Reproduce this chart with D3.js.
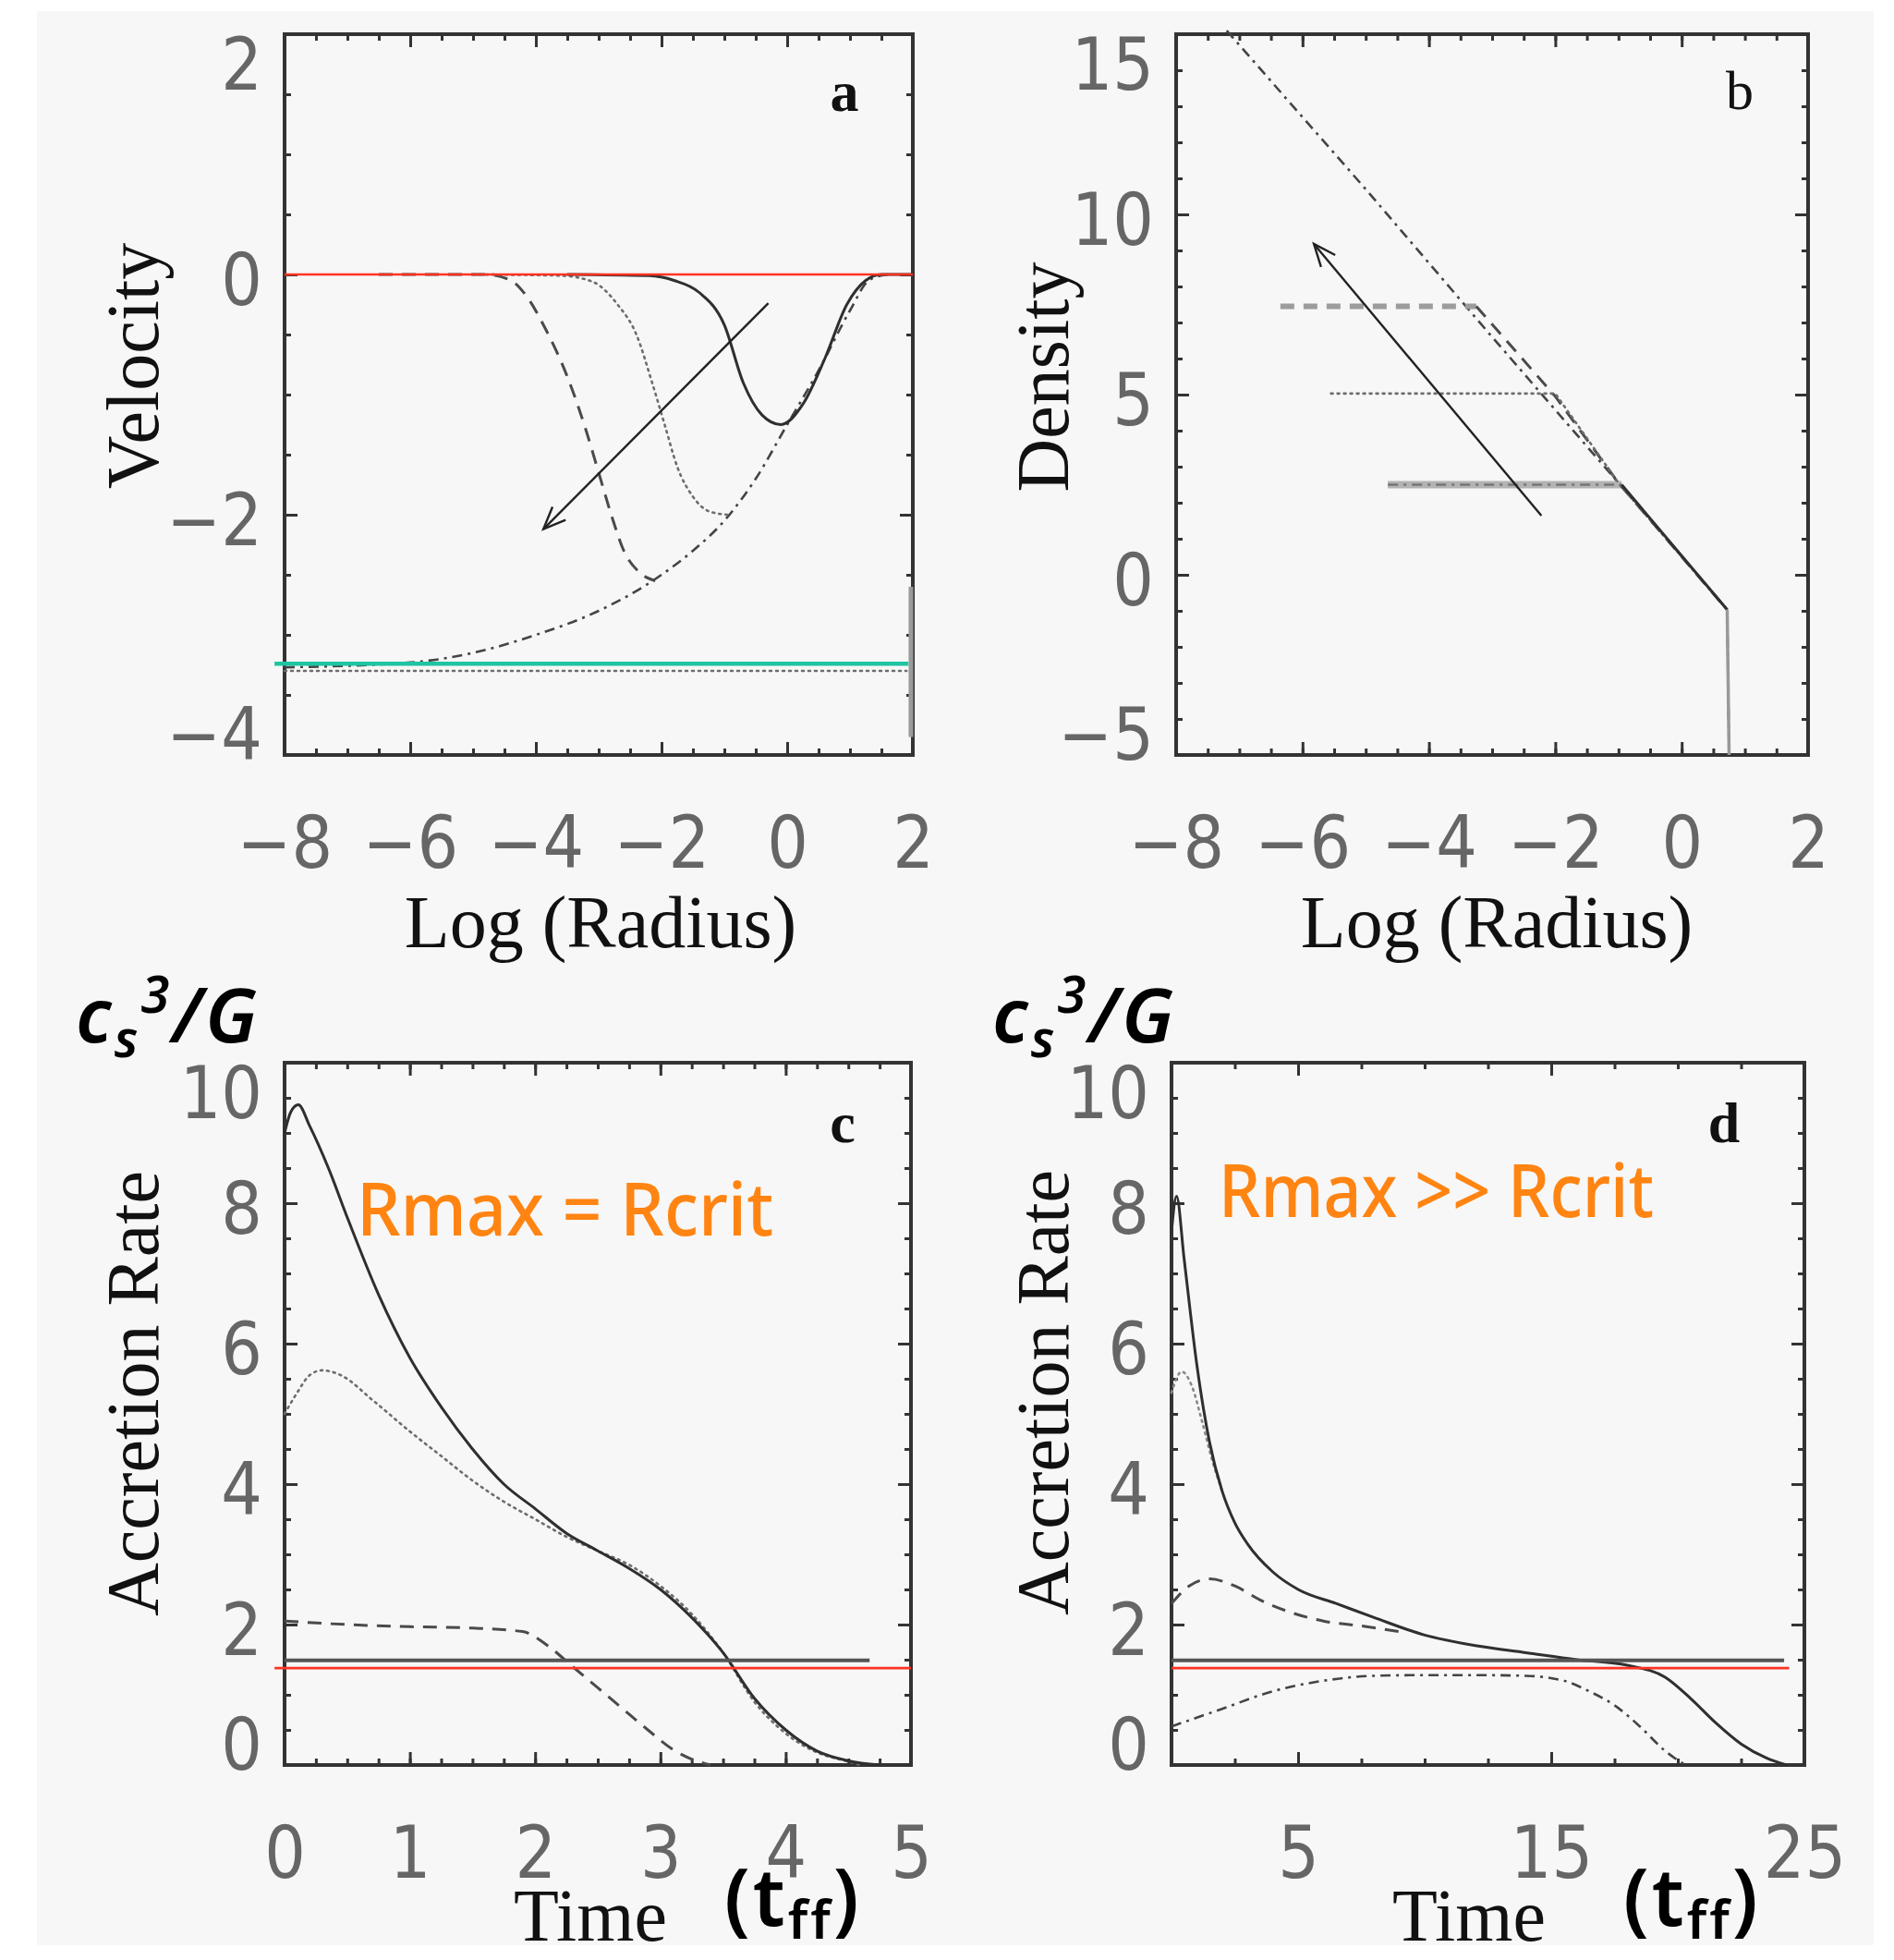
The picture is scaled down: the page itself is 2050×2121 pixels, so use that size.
<!DOCTYPE html>
<html>
<head>
<meta charset="utf-8">
<script src="https://cdn.jsdelivr.net/npm/d3@7"></script>
<style>
  html, body { margin: 0; padding: 0; background: #fff; }
  svg { display: block; }
</style>
</head>
<body>
<svg id="chart" width="2050" height="2121"></svg>
<script>
// ---- values ----
var radiusTicks = [-8, -6, -4, -2, 0, 2];
var velocityTicks = [-4, -2, 0, 2];
var densityTicks = [-5, 0, 5, 10, 15];
var timeTicksC = [0, 1, 2, 3, 4, 5];
var timeTicksD = [5, 15, 25];
var rateTicks = [0, 2, 4, 6, 8, 10];

// panel a : velocity vs log radius
var velSolid = [[-3.5, 0], [-2.2, -0.01], [-1.8, -0.05], [-1.4, -0.15], [-1.0, -0.42], [-0.7, -0.9], [-0.4, -1.17],
  [-0.1, -1.25], [0.25, -1.08], [0.6, -0.7], [0.95, -0.25], [1.25, -0.05], [1.5, 0], [2, 0]];
var velDotted = [[-5.0, 0], [-3.6, -0.01], [-3.1, -0.06], [-2.7, -0.25], [-2.4, -0.5], [-2.15, -0.9], [-1.95, -1.25],
  [-1.75, -1.6], [-1.5, -1.85], [-1.25, -1.97], [-0.95, -2.0]];
var velDashed = [[-6.5, 0], [-4.8, 0], [-4.4, -0.05], [-4.15, -0.18], [-3.85, -0.45], [-3.5, -0.85], [-3.2, -1.3],
  [-3.0, -1.65], [-2.8, -2.0], [-2.6, -2.3], [-2.35, -2.48], [-2.1, -2.55]];
var velDashDot = [[-8, -3.27], [-6, -3.23], [-5, -3.15], [-4, -3.0], [-3, -2.8], [-2, -2.5], [-1.5, -2.3], [-1, -2.05],
  [-0.5, -1.7], [0, -1.25], [0.5, -0.8], [1, -0.3], [1.3, -0.05], [1.6, 0]];
var velFloor = [[-8, -3.3], [1.9, -3.3]];
var velWall = [[1.97, -2.6], [1.97, -3.85]];
var velZero = [[-8, 0], [2, 0]];
var velInfall = [[-8.16, -3.24], [1.93, -3.24]];
var velArrow = [[-0.3, -0.24], [-3.88, -2.12]];

// panel b : density vs log radius
var denDashDot = [[-7.2, 15.1], [-5, 10.7], [-3, 6.6], [-1, 2.55], [0.72, -0.97], [0.75, -5]];
var denDashed = [[-6.35, 7.45], [-3.25, 7.45], [-2, 4.95], [-1, 2.55], [0.72, -0.97]];
var denDotted = [[-5.55, 5.03], [-2.0, 5.03], [-1, 2.55], [0.72, -0.97]];
var denSolid = [[-4.65, 2.5], [-0.95, 2.5], [0.72, -0.97]];
var denWall = [[0.72, -0.97], [0.75, -5]];
var denArrow = [[-2.22, 1.64], [-5.82, 9.18]];

// panel c : accretion rate vs time, Rmax = Rcrit
var accSolidC = [[0, 9.0], [0.05, 9.3], [0.11, 9.4], [0.2, 9.1], [0.35, 8.5], [0.5, 7.8], [0.75, 6.7], [1.0, 5.8],
  [1.25, 5.1], [1.5, 4.5], [1.75, 4.0], [2.0, 3.65], [2.25, 3.3], [2.5, 3.05], [2.75, 2.8], [3.0, 2.5], [3.25, 2.1],
  [3.5, 1.6], [3.75, 0.95], [4.0, 0.5], [4.25, 0.2], [4.5, 0.06], [4.75, 0.0]];
var accDottedC = [[0, 5.0], [0.1, 5.3], [0.2, 5.55], [0.3, 5.62], [0.45, 5.55], [0.7, 5.2], [1.0, 4.75], [1.25, 4.4],
  [1.5, 4.05], [1.75, 3.75], [2.0, 3.5], [2.25, 3.25], [2.5, 3.05], [2.75, 2.85], [3.0, 2.55], [3.25, 2.15],
  [3.5, 1.6], [3.75, 0.9], [4.0, 0.45], [4.25, 0.18], [4.5, 0.05], [4.6, 0.0]];
var accDashedC = [[0, 2.05], [0.5, 2.0], [1.0, 1.97], [1.5, 1.95], [1.9, 1.9], [2.1, 1.7], [2.3, 1.4], [2.5, 1.1],
  [2.7, 0.8], [2.9, 0.5], [3.1, 0.22], [3.3, 0.05], [3.4, 0.0]];
var accLevelC = [[0, 1.49], [4.67, 1.49]];
var accRefC = [[-0.08, 1.38], [5, 1.38]];

// panel d : accretion rate vs time, Rmax >> Rcrit
var accSolidD = [[0, 7.6], [0.2, 8.1], [0.5, 7.2], [1.0, 5.7], [1.5, 4.6], [2.0, 3.9], [2.5, 3.45], [3.0, 3.15],
  [4.0, 2.75], [5.0, 2.5], [6.5, 2.3], [8, 2.1], [10, 1.85], [12, 1.7], [14, 1.6], [16, 1.5], [18, 1.42],
  [19.5, 1.25], [20.5, 0.95], [21.5, 0.6], [22.5, 0.3], [23.5, 0.1], [24.3, 0.0]];
var accDottedD = [[0, 5.3], [0.4, 5.6], [0.8, 5.4], [1.2, 4.9], [1.6, 4.35], [2.0, 3.9]];
var accDashedD = [[0, 2.3], [0.7, 2.55], [1.5, 2.65], [2.5, 2.55], [3.5, 2.35], [4.5, 2.2], [6, 2.05], [7.5, 1.98],
  [9, 1.9]];
var accDashDotD = [[0, 0.55], [2, 0.8], [4, 1.05], [6, 1.2], [8, 1.27], [10, 1.28], [12, 1.28], [14, 1.27],
  [15.5, 1.2], [16.5, 1.05], [17.5, 0.85], [18.5, 0.55], [19.5, 0.2], [20.3, 0.0]];
var accLevelD = [[0, 1.49], [24.2, 1.49]];
var accRefD = [[0, 1.38], [24.4, 1.38]];

// ---- drawing ----
var svg = d3.select('#chart');
var tickFont = "'Liberation Sans Narrow', 'DejaVu Sans Condensed', 'Liberation Sans', sans-serif";
var serif = "'Liberation Serif', 'DejaVu Serif', serif";
var hand = "'Noto Sans', 'Open Sans', sans-serif";
var intFormat = d3.format('d');

svg.append('rect').attr('x', 40).attr('y', 12).attr('width', 1988).attr('height', 2093).attr('fill', '#f7f7f7');

var defs = svg.append('defs');
defs.append('marker')
    .attr('id', 'vhead')
    .attr('viewBox', '-26 -12 30 24')
    .attr('markerWidth', 30).attr('markerHeight', 24)
    .attr('markerUnits', 'userSpaceOnUse')
    .attr('orient', 'auto')
    .append('path')
    .attr('d', 'M-24,-10 L0,0 L-24,10')
    .attr('fill', 'none').attr('stroke', '#222').attr('stroke-width', 2.4);

var styles = {
    solid: {stroke: '#2f2f2f', width: 3, dash: null},
    dotted: {stroke: '#6d6d6d', width: 2.6, dash: '2,5'},
    dashed: {stroke: '#4a4a4a', width: 3, dash: '15,10'},
    dashdot: {stroke: '#444', width: 2.6, dash: '11,6,3,6'}
};

function ticksEvery(domain, step) {
    return d3.range(Math.ceil(domain[0] / step) * step, domain[1] + step / 2, step);
}

function makePanel(o) {
    var x = d3.scaleLinear().domain(o.xDomain).range([o.left, o.right]),
        y = d3.scaleLinear().domain(o.yDomain).range([o.bottom, o.top]),
        g = svg.append('g');

    var axes = [
        ['bottom', d3.axisBottom, x, o.bottom, o.xMinor, 7, true],
        ['bottom', d3.axisBottom, x, o.bottom, o.xTicks, 14, false],
        ['top', d3.axisTop, x, o.top, o.xMinor, 7, true],
        ['top', d3.axisTop, x, o.top, o.xTicks, 14, true],
        ['left', d3.axisLeft, y, o.left, o.yMinor, 7, true],
        ['left', d3.axisLeft, y, o.left, o.yTicks, 14, false],
        ['right', d3.axisRight, y, o.right, o.yMinor, 7, true],
        ['right', d3.axisRight, y, o.right, o.yTicks, 14, true]
    ];
    axes.forEach(function (a) {
        var horizontal = a[0] === 'bottom' || a[0] === 'top',
            axis = a[1](a[2]).tickValues(a[4]).tickSize(-a[5]).tickPadding(24)
                .tickFormat(a[6] ? '' : intFormat);
        var ag = g.append('g')
            .attr('transform', horizontal ? 'translate(0,' + a[3] + ')' : 'translate(' + a[3] + ',0)')
            .call(axis);
        ag.select('.domain').remove();
        ag.selectAll('.tick line').attr('stroke', '#333').attr('stroke-width', 3);
        ag.selectAll('.tick text')
            .attr('font-family', tickFont).attr('font-stretch', 'condensed')
            .attr('font-size', 78).attr('fill', '#666');
        if (!a[6] && a[0] === 'bottom') {
            ag.selectAll('.tick text').attr('y', 122).attr('dy', null);
        }
        if (!a[6] && a[0] === 'left') {
            var lo = o.yDomain[0], hi = o.yDomain[1];
            ag.selectAll('.tick text')
                .attr('dy', '0.36em')
                .attr('y', function (d) { return d === hi ? 31 : (d === lo ? -24 : 4); });
        }
    });

    g.append('rect')
        .attr('x', o.left).attr('y', o.top)
        .attr('width', o.right - o.left).attr('height', o.bottom - o.top)
        .attr('fill', 'none').attr('stroke', '#333').attr('stroke-width', 4);

    return {g: g, x: x, y: y};
}

function addLine(p, data, style, curve, extra) {
    var s = typeof style === 'string' ? styles[style] : style,
        line = d3.line().x(function (d) { return p.x(d[0]); }).y(function (d) { return p.y(d[1]); })
            .curve(curve || d3.curveLinear);
    var path = p.g.append('path')
        .datum(data)
        .attr('d', line)
        .attr('fill', 'none')
        .attr('stroke', s.stroke)
        .attr('stroke-width', s.width)
        .attr('stroke-linecap', s.dash === '2,5' ? 'round' : 'butt');
    if (s.dash) path.attr('stroke-dasharray', s.dash);
    if (extra) extra(path);
    return path;
}

function addText(g, x, y, txt, size, family, opts) {
    opts = opts || {};
    var t = g.append('text')
        .attr('x', x).attr('y', y)
        .attr('font-family', family).attr('font-size', size)
        .attr('fill', opts.fill || '#111')
        .attr('text-anchor', opts.anchor || 'middle')
        .attr('font-weight', opts.weight || 'normal')
        .text(txt);
    if (opts.rotate) t.attr('transform', 'rotate(-90,' + x + ',' + y + ')');
    if (opts.length) t.attr('textLength', opts.length).attr('lengthAdjust', 'spacingAndGlyphs');
    return t;
}

function arrow(p, data) {
    addLine(p, data, {stroke: '#222', width: 2.4, dash: null}, null, function (path) {
        path.attr('marker-end', 'url(#vhead)');
    });
}

var smooth = d3.curveMonotoneX;

// panel a
var pa = makePanel({
    left: 308, right: 988, top: 37, bottom: 817,
    xDomain: [-8, 2], yDomain: [-4, 2],
    xTicks: radiusTicks, xMinor: ticksEvery([-8, 2], 0.5),
    yTicks: velocityTicks, yMinor: ticksEvery([-4, 2], 0.5)
});
addLine(pa, velFloor, 'dotted');
addLine(pa, velWall, {stroke: '#9a9a9a', width: 5, dash: null});
addLine(pa, velDashDot, 'dashdot', smooth);
addLine(pa, velDashed, 'dashed', smooth);
addLine(pa, velDotted, 'dotted', smooth);
addLine(pa, velSolid, 'solid', smooth);
addLine(pa, velZero, {stroke: '#ff3322', width: 2.6, dash: null});
addLine(pa, velInfall, {stroke: '#1fc4a2', width: 4.5, dash: null});
arrow(pa, velArrow);
addText(pa.g, 914, 120, 'a', 62, serif, {weight: 'bold'});
addText(pa.g, 650, 1025, 'Log (Radius)', 80, serif);
addText(pa.g, 171, 396, 'Velocity', 80, serif, {rotate: true});

// panel b
var pb = makePanel({
    left: 1273, right: 1957, top: 37, bottom: 817,
    xDomain: [-8, 2], yDomain: [-5, 15],
    xTicks: radiusTicks, xMinor: ticksEvery([-8, 2], 0.5),
    yTicks: densityTicks, yMinor: ticksEvery([-5, 15], 1)
});
addLine(pb, denSolid.slice(0, 2), {stroke: '#b3b3b3', width: 8, dash: null});
addLine(pb, denDashDot, 'dashdot');
addLine(pb, denDashed.slice(0, 2), {stroke: '#9c9c9c', width: 6, dash: '15,10'});
addLine(pb, denDashed.slice(1), 'dashed');
addLine(pb, denDotted, 'dotted');
addLine(pb, denSolid.slice(0, 2), {stroke: '#777', width: 2.5, dash: '11,6,3,6'});
addLine(pb, denSolid.slice(1), 'solid');
addLine(pb, denWall, {stroke: '#999', width: 3.5, dash: null});
arrow(pb, denArrow);
addText(pb.g, 1883, 118, 'b', 60, serif);
addText(pb.g, 1620, 1025, 'Log (Radius)', 80, serif);
addText(pb.g, 1156, 408, 'Density', 80, serif, {rotate: true});

// panel c
var pc = makePanel({
    left: 308, right: 986, top: 1150, bottom: 1910,
    xDomain: [0, 5], yDomain: [0, 10],
    xTicks: timeTicksC, xMinor: ticksEvery([0, 5], 0.25),
    yTicks: rateTicks, yMinor: ticksEvery([0, 10], 0.5)
});
addLine(pc, accDashedC, 'dashed', smooth);
addLine(pc, accDottedC, 'dotted', smooth);
addLine(pc, accSolidC, 'solid', smooth);
addLine(pc, accLevelC, {stroke: '#555', width: 4, dash: null});
addLine(pc, accRefC, {stroke: '#ff3322', width: 2.6, dash: null});
addText(pc.g, 912, 1236, 'c', 62, serif, {weight: 'bold'});
addText(pc.g, 639, 2100, 'Time', 80, serif);
addText(pc.g, 171, 1508, 'Accretion Rate', 80, serif, {rotate: true});
addText(pc.g, 386, 1337, 'Rmax = Rcrit', 80, hand, {anchor: 'start', fill: '#ff8412', weight: 500, length: 451});

// panel d
var pd = makePanel({
    left: 1268, right: 1953, top: 1150, bottom: 1910,
    xDomain: [0, 25], yDomain: [0, 10],
    xTicks: timeTicksD, xMinor: ticksEvery([0, 25], 2.5),
    yTicks: rateTicks, yMinor: ticksEvery([0, 10], 0.5)
});
addLine(pd, accDashDotD, 'dashdot', smooth);
addLine(pd, accDashedD, 'dashed', smooth);
addLine(pd, accDottedD, {stroke: '#8a8a8a', width: 2.6, dash: '2,5'}, smooth);
addLine(pd, accSolidD, 'solid', smooth);
addLine(pd, accLevelD, {stroke: '#555', width: 4, dash: null});
addLine(pd, accRefD, {stroke: '#ff3322', width: 2.6, dash: null});
addText(pd.g, 1866, 1236, 'd', 62, serif, {weight: 'bold'});
addText(pd.g, 1590, 2100, 'Time', 80, serif);
addText(pd.g, 1156, 1507, 'Accretion Rate', 80, serif, {rotate: true});
addText(pd.g, 1319, 1317, 'Rmax >> Rcrit', 80, hand, {anchor: 'start', fill: '#ff8412', weight: 500, length: 471});

// unit annotations
function units(g, x, y) {
    var t = g.append('text').attr('x', x).attr('y', y)
        .attr('font-family', hand).attr('font-style', 'italic').attr('font-weight', 600)
        .attr('font-size', 82).attr('fill', '#000').attr('letter-spacing', 3);
    t.append('tspan').text('c');
    t.append('tspan').attr('font-size', 56).attr('dy', 16).text('s');
    t.append('tspan').attr('font-size', 56).attr('dy', -48).text('3');
    t.append('tspan').attr('dy', 32).text('/G');
}
function timeUnit(g, x, y) {
    var t = g.append('text').attr('x', x).attr('y', y)
        .attr('font-family', hand).attr('font-weight', 600)
        .attr('font-size', 86).attr('fill', '#000').attr('letter-spacing', 3);
    t.append('tspan').text('(t');
    t.append('tspan').attr('font-size', 58).attr('dy', 14).text('ff');
    t.append('tspan').attr('dy', -14).text(')');
}
units(pc.g, 82, 1128);
units(pd.g, 1074, 1128);
timeUnit(pc.g, 784, 2084);
timeUnit(pd.g, 1757, 2084);
</script>
</body>
</html>
